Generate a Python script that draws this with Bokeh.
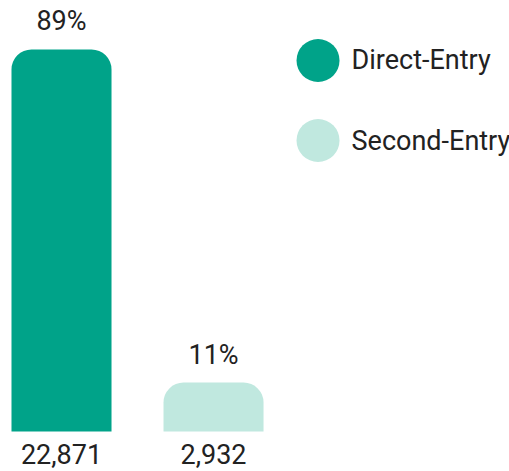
from bokeh.plotting import figure
from bokeh.models import Range1d, ColumnDataSource
from bokeh.core.properties import value
from bokeh.embed import file_html
from bokeh.resources import INLINE

categories = ["Direct-Entry", "Second-Entry"]
counts = [22871, 2932]
count_labels = ["22,871", "2,932"]
pct_labels = ["89%", "11%"]
colors = ["#00A389", "#C0E8DF"]

W, H = 509, 471
p = figure(width=W, height=H, output_backend="svg", toolbar_location=None,
           x_range=Range1d(-0.4013, 2.947), y_range=Range1d(-2395, 25804),
           min_border=0, outline_line_color=None, background_fill_color="white")
p.axis.visible = False
p.grid.visible = False

xs = list(range(len(categories)))
src = ColumnDataSource(dict(x=xs, top=counts, color=colors, pct=pct_labels,
                            cnt=count_labels, zero=[0] * len(xs)))

p.vbar(x="x", top="top", bottom=0, width=0.658, fill_color="color", line_color=None,
       border_radius=(20, 20, 0, 0), source=src)

font = value("Roboto")
p.text(x="x", y="top", text="pct", source=src, text_font=font, text_font_size="27px",
       text_color="#222222", text_align="center", text_baseline="middle", y_offset=-28)
p.text(x="x", y="zero", text="cnt", source=src, text_font=font, text_font_size="27px",
       text_color="#222222", text_align="center", text_baseline="middle", y_offset=23)

# legend
leg = ColumnDataSource(dict(x=[1.6875] * 2, tx=[1.908] * 2, y=[22212, 17422],
                            label=categories, color=colors))
p.scatter(x="x", y="y", size=43, marker="circle", fill_color="color", line_color=None, source=leg)
p.text(x="tx", y="y", text="label", source=leg, text_font=font, text_font_size="27px",
       text_color="#222222", text_align="left", text_baseline="middle")

open("out.html", "w").write(file_html(p, INLINE))
